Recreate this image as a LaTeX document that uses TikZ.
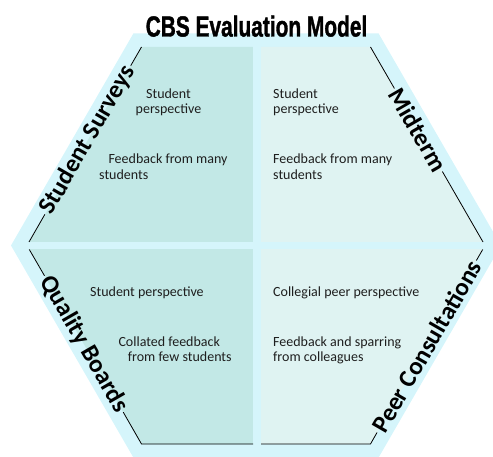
\documentclass[tikz,border=0pt]{standalone}
\usepackage{fontspec}
\setmainfont{Carlito}
\newfontfamily\titlefont[FakeBold=1.5]{Liberation Sans}
\definecolor{rimcyan}{RGB}{213,245,251}
\definecolor{quadteal}{RGB}{194,232,230}
\definecolor{quadlight}{RGB}{223,243,242}
\definecolor{bodytext}{RGB}{30,30,30}
\begin{document}
\begin{tikzpicture}[x=1pt,y=-1pt,
  body/.style={inner sep=0pt, font=\fontsize{14}{16}\selectfont, text=bodytext},
  edgelab/.style={inner sep=2pt, font=\fontsize{25}{28}\selectfont\bfseries},
  rim/.style={draw=black, line width=0.8pt}]
\clip (0,0) rectangle (493,457);
% outer hexagon
\fill[rimcyan] (11,245.5) -- (133.5,33.3) -- (378.5,33.3) -- (501,245.5) -- (378.5,457.7) -- (133.5,457.7) -- cycle;
% quadrants
\begin{scope}
\clip (27,245.5) -- (141.5,47) -- (370.5,47) -- (485,245.5) -- (370.5,444) -- (141.5,444) -- cycle;
\fill[quadteal] (0,0) rectangle (253,242);
\fill[quadlight] (261,0) rectangle (493,242);
\fill[quadteal] (0,249.5) rectangle (253,457);
\fill[quadlight] (261,249.5) rectangle (493,457);
\end{scope}
% corner coordinates
\coordinate (ulT) at (141.5,47);
\coordinate (ulB) at (29,242);
\coordinate (urT) at (370.5,47);
\coordinate (urB) at (483,242);
\coordinate (llT) at (29.3,249.5);
\coordinate (llB) at (141.5,444);
\coordinate (llBR) at (253,444);
\coordinate (lrBL) at (261,444);
\coordinate (lrB) at (370.5,444);
\coordinate (lrT) at (482.7,249.5);
% edge labels
\node[edgelab, rotate=60] (ss) at (87.8,140) {Student Surveys};
\node[edgelab, rotate=-60] (mt) at (418.4,130) {Midterm};
\node[edgelab, rotate=-60] (qb) at (83.9,344) {Quality Boards};
\node[edgelab, rotate=60] (pc) at (426.7,346.5) {Peer Consultations};
% rim lines
\draw[rim] (ulT) -- (ss.east);
\draw[rim] (ss.west) -- (ulB);
\draw[rim] (urT) -- (mt.west);
\draw[rim] (mt.east) -- (urB);
\draw[rim] (llT) -- (qb.west);
\draw[rim] (qb.east) -- (llB) -- (llBR);
\draw[rim] (lrBL) -- (lrB) -- (pc.west);
\draw[rim] (pc.east) -- (lrT);
% title
\node[font=\titlefont\bfseries\fontsize{29}{32}\selectfont, xscale=0.72, anchor=base, inner sep=0pt] (title) at (256.5,36.5) {CBS Evaluation Model};
% upper left
\node[body, anchor=base] (ul1) at (168.5,98.3) {Student};
\node[body, anchor=base] (ul2) at (168.5,113.3) {perspective};
\node[body, anchor=base west] (ul3) at (108.3,163.3) {Feedback from many};
\node[body, anchor=base west] (ul4) at (99,179.3) {students};
% upper right
\node[body, anchor=base west] (ur1) at (273,98.3) {Student};
\node[body, anchor=base west] (ur2) at (273,113.3) {perspective};
\node[body, anchor=base west] (ur3) at (273,163.3) {Feedback from many};
\node[body, anchor=base west] (ur4) at (273,179.3) {students};
% lower left
\node[body, anchor=base west] (ll1) at (90,296.7) {Student perspective};
\node[body, anchor=base west] (ll2) at (118.3,346) {Collated feedback};
\node[body, anchor=base west] (ll3) at (127.7,361.7) {from few students};
% lower right
\node[body, anchor=base west] (lr1) at (273,296.7) {Collegial peer perspective};
\node[body, anchor=base west] (lr2) at (273,346) {Feedback and sparring};
\node[body, anchor=base west] (lr3) at (273,361.7) {from colleagues};
\end{tikzpicture}
\end{document}
